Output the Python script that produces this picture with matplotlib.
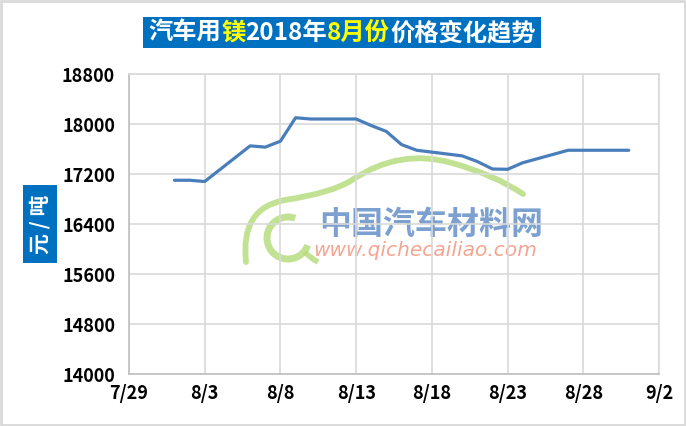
import matplotlib
matplotlib.use("Agg")
import matplotlib.pyplot as plt
import matplotlib.dates as mdates
from matplotlib.patches import Rectangle, PathPatch, Arc
from matplotlib.path import Path
from matplotlib.transforms import Affine2D
from matplotlib.ticker import FixedLocator, FuncFormatter
import datetime as dt

plt.rcParams['font.family'] = ['Noto Sans CJK SC', 'DejaVu Sans']

# ---- data ----
dates = ["2018-08-01", "2018-08-02", "2018-08-03", "2018-08-06", "2018-08-07",
         "2018-08-08", "2018-08-09", "2018-08-10", "2018-08-13", "2018-08-14",
         "2018-08-15", "2018-08-16", "2018-08-17", "2018-08-20", "2018-08-21",
         "2018-08-22", "2018-08-23", "2018-08-24", "2018-08-27", "2018-08-28",
         "2018-08-29", "2018-08-30", "2018-08-31"]
prices = [17100, 17100, 17080, 17650, 17630,
          17725, 18100, 18080, 18080, 17975,
          17880, 17670, 17580, 17490, 17400,
          17280, 17275, 17380, 17580, 17580,
          17580, 17580, 17580]
x_ticks = ["2018-07-29", "2018-08-03", "2018-08-08", "2018-08-13", "2018-08-18",
           "2018-08-23", "2018-08-28", "2018-09-02"]
y_ticks = [14000, 14800, 15600, 16400, 17200, 18000, 18800]
title_parts = [("汽车用", "white"), ("镁", "#ffff00"), ("2018年", "white"),
               ("8月份", "#ffff00"), ("价格变化趋势", "white")]
y_label = "元 / 吨"

W, H = 686, 426
fig = plt.figure(figsize=(W / 100, H / 100), dpi=100)
fig.patch.set_facecolor("white")
px = Affine2D().scale(1, -1).translate(0, H)  # image pixel coords -> display

ax = fig.add_axes([129 / W, (H - 374) / H, (659 - 129) / W, (374 - 74) / H])

xd = [dt.datetime.strptime(d, "%Y-%m-%d") for d in dates]
xt = [dt.datetime.strptime(d, "%Y-%m-%d") for d in x_ticks]

ax.plot(xd, prices, color="#4a7ebb", lw=2.3, solid_joinstyle="round",
        solid_capstyle="round", zorder=3)

ax.set_xlim(xt[0], xt[-1])
ax.set_ylim(y_ticks[0], y_ticks[-1])
ax.xaxis.set_major_locator(FixedLocator(mdates.date2num(xt)))
ax.xaxis.set_major_formatter(FuncFormatter(
    lambda v, p: f"{mdates.num2date(v).month}/{mdates.num2date(v).day}"))
ax.set_yticks(y_ticks)
ax.set_axisbelow(True)
ax.grid(True, color="#d9d9d9", lw=1.2)
for s in ax.spines.values():
    s.set_color("#d9d9d9")
    s.set_linewidth(1.2)
ax.spines["left"].set_color("#bfbfbf")
ax.spines["bottom"].set_color("#bfbfbf")
ax.tick_params(length=0, labelsize=13, pad=7)
ax.tick_params(axis="y", pad=10)
for lab in ax.get_xticklabels() + ax.get_yticklabels():
    lab.set_fontweight("bold")
    lab.set_color("black")

# ---- watermark (behind grid) ----
green = "#b3db78"
roof = Path([(246, 262), (240, 208), (285, 200), (332, 193), (352, 180),
             (400, 148), (452, 163), (495, 175), (523, 194)],
            [Path.MOVETO, Path.CURVE3, Path.CURVE3, Path.CURVE3, Path.CURVE3,
             Path.CURVE3, Path.CURVE3, Path.CURVE3, Path.CURVE3])
ax.add_patch(PathPatch(roof, transform=px, fill=False, edgecolor=green,
                       lw=4.2, alpha=0.8, zorder=0.2, capstyle="round"))
ax.add_patch(Arc((288, 238), 42, 42, theta1=20, theta2=290, transform=px,
                 edgecolor=green, lw=5, alpha=0.8, zorder=0.2))
tail = Path([(305, 252), (310, 258), (318, 262)],
            [Path.MOVETO, Path.CURVE3, Path.CURVE3])
ax.add_patch(PathPatch(tail, transform=px, fill=False, edgecolor=green,
                       lw=4, alpha=0.8, zorder=0.2))
ax.text(431, 225, "中国汽车材料网", transform=px, ha="center", va="center",
        fontsize=23, fontweight="bold", color="#5b8ac6", alpha=0.8, zorder=0.3)
ax.text(425, 251, "www.qichecailiao.com", transform=px, ha="center",
        va="center", fontsize=14.5, style="italic", color="#f29b86",
        family="DejaVu Sans", alpha=0.9, zorder=0.3)

# ---- title box with coloured pieces ----
fig.add_artist(Rectangle((143, 17), 398, 31, transform=px, facecolor="#0070c0",
                         edgecolor="none", zorder=1))
renderer = fig.canvas.get_renderer()
tfs = 17.5
texts = []
for s, c in title_parts:
    t = fig.text(0, 0, s, transform=px, fontsize=tfs, fontweight="bold",
                 color=c, ha="left", va="center", zorder=2)
    texts.append(t)
widths = [t.get_window_extent(renderer).width for t in texts]
total = sum(widths)
x0 = 342 - total / 2
for t, w in zip(texts, widths):
    t.set_position((x0, 33))
    x0 += w

# ---- y label box ----
fig.add_artist(Rectangle((23, 185), 34, 78, transform=px, facecolor="#0070c0",
                         edgecolor="none", zorder=1))
fig.text(40, 224, y_label, transform=px, rotation=90, ha="center", va="center",
         fontsize=15, fontweight="bold", color="white", zorder=2)

# ---- outer border ----
fig.add_artist(Rectangle((1, 1), W - 2, H - 2, transform=px, facecolor="none",
                         edgecolor="#d9d9d9", lw=2, zorder=5))

fig.savefig("out.png", dpi=100)
